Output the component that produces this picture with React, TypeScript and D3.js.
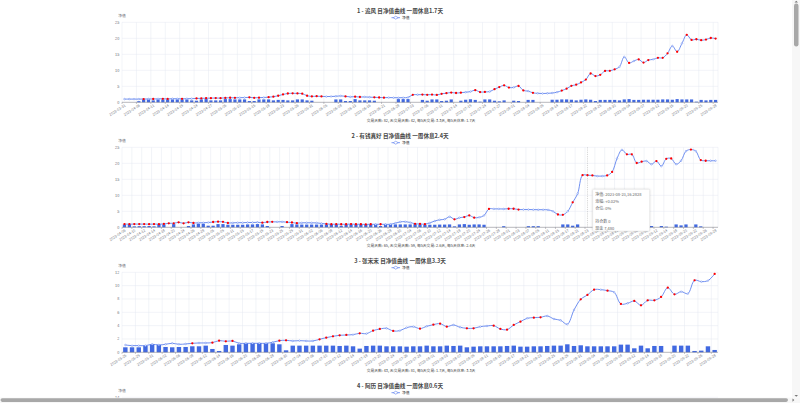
import React from "react";
import * as d3 from "d3";

const FONT = '"Noto Sans CJK SC", "Noto Sans", sans-serif';
const W = 800;
const H = 403;
const PLOT_LEFT = 122;
const PLOT_RIGHT = 718;
const PLOT_TOP_OFF = 22.3;
const PLOT_H = 80;
const VISIBLE_BOTTOM = 399;
const LINE_COLOR = "#5f82ee";
const BAR_COLOR = "#4169e1";
const AXIS_TEXT = "#6E7079";
const GRID = "#e4e8f0";

// 2023 trading days, 03-31 .. 09-28
const TRADING_DAYS = [
  "2023-03-31",
  "2023-04-03", "2023-04-04", "2023-04-06", "2023-04-07", "2023-04-10", "2023-04-11", "2023-04-12", "2023-04-13", "2023-04-14",
  "2023-04-17", "2023-04-18", "2023-04-19", "2023-04-20", "2023-04-21", "2023-04-24", "2023-04-25", "2023-04-26", "2023-04-27", "2023-04-28",
  "2023-05-04", "2023-05-05", "2023-05-08", "2023-05-09", "2023-05-10", "2023-05-11", "2023-05-12", "2023-05-15", "2023-05-16", "2023-05-17",
  "2023-05-18", "2023-05-19", "2023-05-22", "2023-05-23", "2023-05-24", "2023-05-25", "2023-05-26", "2023-05-29", "2023-05-30", "2023-05-31",
  "2023-06-01", "2023-06-02", "2023-06-05", "2023-06-06", "2023-06-07", "2023-06-08", "2023-06-09", "2023-06-12", "2023-06-13", "2023-06-14",
  "2023-06-15", "2023-06-16", "2023-06-19", "2023-06-20", "2023-06-21", "2023-06-26", "2023-06-27", "2023-06-28", "2023-06-29", "2023-06-30",
  "2023-07-03", "2023-07-04", "2023-07-05", "2023-07-06", "2023-07-07", "2023-07-10", "2023-07-11", "2023-07-12", "2023-07-13", "2023-07-14",
  "2023-07-17", "2023-07-18", "2023-07-19", "2023-07-20", "2023-07-21", "2023-07-24", "2023-07-25", "2023-07-26", "2023-07-27", "2023-07-28",
  "2023-07-31",
  "2023-08-01", "2023-08-02", "2023-08-03", "2023-08-04", "2023-08-07", "2023-08-08", "2023-08-09", "2023-08-10", "2023-08-11", "2023-08-14",
  "2023-08-15", "2023-08-16", "2023-08-17", "2023-08-18", "2023-08-21", "2023-08-22", "2023-08-23", "2023-08-24", "2023-08-25", "2023-08-28",
  "2023-08-29", "2023-08-30", "2023-08-31",
  "2023-09-01", "2023-09-04", "2023-09-05", "2023-09-06", "2023-09-07", "2023-09-08", "2023-09-11", "2023-09-12", "2023-09-13", "2023-09-14",
  "2023-09-15", "2023-09-18", "2023-09-19", "2023-09-20", "2023-09-21", "2023-09-22", "2023-09-25", "2023-09-26", "2023-09-27", "2023-09-28",
];

const DATES_1 = TRADING_DAYS;
const DATES_2 = TRADING_DAYS.slice(3);
const DATES_3 = TRADING_DAYS.slice(35);

const TITLES = [
  "1 - 追风 目净值曲线 一周休息1.7天",
  "2 - 有钱真好 目净值曲线 一周休息2.4天",
  "3 - 张宋宋 目净值曲线 一周休息3.3天",
  "4 - 阿历 目净值曲线 一周休息0.6天",
];
const FOOTERS = [
  "交易天数: 82, 无交易天数: 42, 每5天交易: 3.3天, 每5天休息: 1.7天",
  "交易天数: 65, 无交易天数: 59, 每5天交易: 2.6天, 每5天休息: 2.4天",
  "交易天数: 43, 无交易天数: 81, 每5天交易: 1.7天, 每5天休息: 3.3天",
];
const LEGEND_NAME = "净值";
const Y_NAME = "净值";

const Y_TICKS_1 = [0, 5, 10, 15, 20, 25];
const Y_TICKS_2 = [0, 5, 10, 15, 20, 25];
const Y_TICKS_3 = [0, 2, 4, 6, 8, 10, 12];
const Y_TICKS_4 = [0, 2, 4, 6, 8, 10, 12, 14];

// chart 1
const NAV_1 = [
  1.00, 1.00, 1.00, 1.00, 1.02, 1.04, 1.03, 1.08, 1.10, 1.06,
  1.12, 1.10, 1.08, 1.12, 1.15, 1.20, 1.24, 1.28, 1.30, 1.33,
  1.30, 1.38, 1.42, 1.40, 1.45, 1.48, 1.55, 1.40, 1.45, 1.50,
  1.60, 1.75, 2.05, 2.45, 2.75, 2.80, 2.78, 2.70, 2.05, 1.85,
  1.90, 1.85, 1.80, 1.82, 1.88, 2.00, 1.85, 1.70, 1.75, 1.65,
  1.68, 1.60, 1.55, 1.50, 1.45, 1.48, 1.45, 1.42, 1.45, 1.50,
  2.35, 2.38, 2.40, 2.35, 2.40, 2.30, 2.65, 2.85, 3.05, 2.90,
  3.00, 3.15, 3.35, 3.80, 3.20, 3.25, 3.35, 4.10, 4.75, 5.30,
  4.60, 4.65, 5.10, 3.70, 3.50, 2.95, 2.80, 2.75, 2.80, 2.90,
  3.15, 3.65, 4.25, 5.15, 5.50, 6.20, 7.10, 9.00, 8.20, 8.60,
  9.80, 9.85, 10.30, 11.10, 14.20, 12.30, 12.90, 13.40, 12.40, 13.20,
  13.40, 13.90, 13.90, 15.30, 17.60, 15.80, 18.40, 21.10, 19.50, 19.70,
  19.40, 19.60, 20.10, 19.90,
];
const POS_1 = [
  0, 0, 0, 0.35, 0.9, 0.9, 0.6, 0.9, 0.9, 0.9,
  0.9, 0.9, 0.9, 0.9, 0.6, 0.5, 0.9, 1.0, 0.6, 0.6,
  0.6, 1.0, 1.0, 0.9, 0.9, 0.9, 0.4, 0.4, 0.9, 0.9,
  0.9, 0.6, 0.75, 0.75, 0.6, 0.6, 0.9, 0.9, 0.6, 0.5,
  0, 0, 0, 0, 0.9, 0.9, 0.4, 0.4, 1.0, 0.6,
  0.6, 0.6, 0.5, 0, 0, 0, 0, 1.0, 1.0, 1.0,
  0, 0, 0.75, 0.5, 0.9, 0.9, 0.4, 0.5, 0.9, 0,
  0.5, 0.8, 0.95, 0.75, 0.2, 0.9, 0.9, 0.5, 0.3, 0.6,
  0, 0.5, 0.4, 0, 0.75, 0.75, 0, 0, 0, 0.8,
  0.8, 0.9, 0.9, 0.8, 0.6, 0.8, 0.9, 0.8, 0.4, 0.75,
  0.75, 0.75, 0.75, 0.6, 0.9, 1.0, 0.75, 0.75, 0.8, 0.8,
  0.8, 0.8, 0.9, 0.9, 0.8, 1.0, 0.9, 0.9, 0.9, 0.2,
  0.75, 0.6, 0.75, 0.75,
];
const TRADE_IDX_1 = [
  4, 6, 8, 9, 12, 15, 16, 17, 18, 19, 20, 21, 22, 23, 26, 27, 28,
  30, 31, 32, 33, 34, 35, 36, 37, 38, 39, 40, 41, 46, 48, 49, 52, 53, 54,
  60, 62, 63, 64, 65, 66, 67, 68, 69, 70, 73, 74, 75, 77, 78, 79, 80, 82, 83, 85,
  91, 92, 93, 94, 95, 96, 97, 98, 99, 100, 101, 102, 105, 107, 108, 109,
  111, 112, 113, 115, 117, 118, 119, 120, 121, 122, 123,
];

// chart 2
const NAV_2 = [
  1.00, 0.98, 1.00, 1.00, 1.00, 0.98, 1.00, 0.98, 1.05, 1.25,
  1.25, 1.55, 1.25, 1.55, 1.35, 1.40, 1.42, 1.50, 1.65, 1.75,
  1.70, 1.35, 1.40, 1.45, 1.45, 1.50, 1.50, 1.55, 1.45, 1.65,
  1.70, 1.70, 1.72, 1.60, 1.50, 1.30, 1.40, 1.42, 1.40, 1.38,
  1.20, 1.05, 0.95, 0.98, 0.95, 0.95, 1.00, 0.95, 0.95, 0.90,
  0.95, 0.92, 0.95, 0.92, 0.95, 1.30, 1.70, 1.75, 1.50, 1.10,
  1.05, 0.98, 1.40, 1.95, 2.35, 2.50, 3.30, 2.50, 3.00, 3.20,
  3.70, 3.00, 3.10, 3.70, 5.75, 5.75, 5.75, 5.72, 5.80, 5.80,
  5.55, 5.55, 5.55, 5.52, 5.50, 5.50, 5.45, 5.00, 4.00, 3.90,
  5.00, 7.80, 10.50, 16.28, 16.2828, 16.20, 16.00, 16.00, 16.20, 17.30,
  21.50, 24.20, 22.80, 22.80, 20.10, 20.50, 20.70, 19.70, 20.70, 19.10,
  21.40, 21.50, 19.70, 20.80, 23.80, 24.30, 23.80, 21.00, 20.80, 20.80,
  20.80,
];
const POS_2 = [
  0.9, 0.9, 0.3, 0.35, 0.35, 0.4, 0.3, 1.0, 0.9, 0,
  1.0, 0, 0, 0.4, 0.9, 1.1, 1.1, 0.5, 0.5, 1.0,
  1.0, 0.8, 0.8, 0.8, 0.8, 0.9, 0.9, 1.0, 0.9, 0.4,
  0, 0, 0.4, 0, 1.0, 0.9, 0.85, 0.85, 0.85, 0.85,
  0.85, 0.9, 1.0, 0.9, 0.5, 0.9, 0.9, 0.9, 0.9, 0.9,
  0.9, 0.9, 0.4, 0.9, 0.9, 0.9, 0.9, 0.9, 0.9, 1.0,
  0.9, 0.8, 0.8, 0.8, 0.85, 0.85, 0.9, 0.3, 0.9, 1.0,
  0.8, 0.9, 0.9, 0.8, 0, 0, 0, 0.35, 0, 0,
  0, 0, 0.35, 0.35, 0.35, 0, 0, 0, 0, 0.9,
  0.9, 0.5, 0.9, 0, 0, 0, 0, 0, 0, 0,
  0, 0, 0, 0, 0, 0, 0, 0.4, 0, 0.4,
  0.2, 0, 0.9, 0.6, 0.9, 0, 0.9, 0.3, 0, 0,
  0,
];
const TRADE_IDX_2 = [
  0, 1, 2, 3, 4, 5, 6, 7, 8, 9, 10, 11, 12, 13, 14, 18, 19, 20, 21,
  28, 29, 30, 33, 34, 35, 41, 42, 43, 44, 45, 46, 47, 48, 49, 50, 52,
  59, 60, 61, 67, 69, 70, 71, 74, 78, 79, 80, 88, 89, 91, 93, 94, 95,
  98, 99, 102, 103, 104, 105, 108, 110, 111, 115, 117, 118,
];

// chart 3
const NAV_3 = [
  1.10, 1.00, 1.00, 1.00, 1.20, 1.10, 1.20, 1.35, 1.20, 1.25,
  1.35, 1.40, 1.40, 1.45, 1.75, 1.65, 1.70, 1.35, 1.35, 1.35,
  1.35, 1.35, 1.50, 1.75, 1.80, 1.70, 1.75, 1.70, 1.70, 1.95,
  2.20, 2.40, 2.55, 2.60, 2.65, 2.85, 2.80, 3.25, 3.50, 3.60,
  3.20, 3.25, 3.70, 3.85, 3.55, 3.90, 4.15, 4.30, 3.85, 4.10,
  3.75, 3.60, 3.60, 3.85, 3.95, 4.00, 3.50, 3.40, 4.10, 4.60,
  5.10, 5.20, 5.25, 5.45, 5.00, 4.80, 4.20, 6.35, 7.95, 8.60,
  9.40, 9.40, 9.25, 9.00, 7.25, 7.35, 7.70, 7.05, 7.80, 7.80,
  8.30, 9.70, 8.70, 9.10, 8.80, 10.80, 10.60, 10.75, 11.75,
];
const POS_3 = [
  0.75, 0.75, 0.75, 1.00, 1.20, 1.10, 0.80, 0.75, 0.80, 0.80,
  0.90, 0.90, 1.00, 0.50, 0.20, 1.10, 1.00, 1.20, 1.35, 1.40,
  1.40, 1.35, 1.35, 1.20, 0.30, 1.00, 1.00, 1.00, 1.00, 1.00,
  1.00, 1.00, 0.95, 1.00, 0.90, 0.55, 0.95, 1.00, 1.00, 0.90,
  0.90, 0.90, 0.85, 0.90, 0.90, 1.00, 0.90, 0.90, 1.00, 0.95,
  1.00, 0.75, 0.85, 0.90, 0.90, 0.90, 0.90, 0.95, 1.00, 0.85,
  0.85, 0.90, 0.90, 0.95, 1.00, 1.00, 1.20, 0.95, 1.05, 0.90,
  0.90, 0.90, 0.90, 0.90, 1.15, 1.15, 0.60, 1.00, 0.60, 0.95,
  0.95, 0.00, 1.00, 1.00, 1.00, 0.20, 0.25, 0.90, 0.35,
];
const TRADE_IDX_3 = [
  10, 13, 14, 15, 16, 23, 24, 29, 30, 31, 32, 33, 35, 37, 38, 40, 44,
  46, 47, 48, 51, 52, 55, 56, 57, 58, 59, 61, 62, 68, 69, 70, 72, 74,
  76, 77, 78, 79, 80, 81, 82, 85, 88,
];

const TOOLTIP_2_INDEX = 94;
const TOOLTIP_2_LINES = [
  "净值: 2023-08-23,16.2828",
  "涨幅: +0.02%",
  "仓位:  0%",
  "",
  "持仓数 0",
  "现金 7,480",
];

type ChartProps = {
  top: number;
  title: string;
  footer?: string;
  dates: string[];
  nav: number[];
  pos: number[];
  trades: number[];
  yTicks: number[];
  labelEvery: number;
  tooltipIndex?: number;
  tooltipLines?: string[];
};

function Chart(p: ChartProps) {
  const t = p.top;
  const yTop = t + PLOT_TOP_OFF;
  const yBot = yTop + PLOT_H;
  const yMax = p.yTicks[p.yTicks.length - 1];
  const y = d3.scaleLinear().domain([0, yMax]).range([yBot, yTop]);
  const x = d3.scaleBand<string>().domain(p.dates).range([PLOT_LEFT, PLOT_RIGHT]);
  const bw = x.bandwidth();
  const cx = (i: number) => (x(p.dates[i]) ?? 0) + bw / 2;
  const n = Math.min(p.dates.length, p.nav.length);
  const pts: [number, number][] = p.nav.slice(0, n).map((v, i) => [cx(i), y(v)]);
  const lineGen = d3.line().curve(d3.curveCatmullRom.alpha(0.5));
  const tradeSet = new Set(p.trades);
  const labelIdx = p.dates.map((_, i) => i).filter((i) => i % p.labelEvery === 0);
  const barW = bw * 0.66;
  const visibleTicks = p.yTicks.filter((v) => y(v) < VISIBLE_BOTTOM);

  return (
    <g>
      <text x={400} y={t + 11} textAnchor="middle" dominantBaseline="central"
        fontSize={5.6} fontWeight="bold" fill="#464646" fontFamily={FONT}>{p.title}</text>
      {/* legend */}
      <line x1={391.5} x2={400} y1={t + 17.7} y2={t + 17.7} stroke={LINE_COLOR} strokeWidth={0.8} />
      <path d={`M${393.3},${t + 17.7} L${395.75},${t + 16.2} L${398.2},${t + 17.7} L${395.75},${t + 19.2} Z`}
        fill="#fff" stroke={LINE_COLOR} strokeWidth={0.6} />
      <text x={402} y={t + 17.8} dominantBaseline="central" fontSize={3.8} fill="#333" fontFamily={FONT}>{LEGEND_NAME}</text>
      {/* y axis name */}
      <text x={PLOT_LEFT} y={t + 15} textAnchor="middle" dominantBaseline="central"
        fontSize={3.8} fill={AXIS_TEXT} fontFamily={FONT}>{Y_NAME}</text>
      {/* horizontal grid + y labels */}
      {visibleTicks.map((v) => (
        <g key={"y" + v}>
          {v !== 0 && <line x1={PLOT_LEFT} x2={PLOT_RIGHT} y1={y(v)} y2={y(v)} stroke={GRID} strokeWidth={0.5} />}
          <text x={PLOT_LEFT - 2.7} y={y(v)} textAnchor="end" dominantBaseline="central"
            fontSize={3.8} fill={AXIS_TEXT} fontFamily={FONT}>{v}</text>
        </g>
      ))}
      {/* vertical grid */}
      {n > 0 && labelIdx.map((i) => (
        <line key={"vg" + i} x1={x(p.dates[i])} x2={x(p.dates[i])} y1={yTop} y2={yBot} stroke={GRID} strokeWidth={0.5} />
      ))}
      {n > 0 && <line x1={PLOT_RIGHT} x2={PLOT_RIGHT} y1={yTop} y2={yBot} stroke={GRID} strokeWidth={0.5} />}
      {/* bars */}
      {p.pos.slice(0, n).map((v, i) => v > 0 ? (
        <rect key={"b" + i} x={cx(i) - barW / 2} y={y(v)} width={barW} height={yBot - y(v)} fill={BAR_COLOR} />
      ) : null)}
      {/* x axis */}
      {n > 0 && <line x1={PLOT_LEFT} x2={PLOT_RIGHT} y1={yBot} y2={yBot} stroke={AXIS_TEXT} strokeWidth={0.5} />}
      {n > 0 && labelIdx.map((i) => (
        <g key={"xl" + i}>
          <line x1={x(p.dates[i])} x2={x(p.dates[i])} y1={yBot} y2={yBot + 1.7} stroke={AXIS_TEXT} strokeWidth={0.4} />
          <text transform={`translate(${cx(i) + 0.6},${yBot + 2.6}) rotate(-33)`} textAnchor="end" dominantBaseline="central"
            fontSize={3.6} fill={AXIS_TEXT} fontFamily={FONT}>{p.dates[i]}</text>
        </g>
      ))}
      {/* tooltip axis pointer */}
      {p.tooltipIndex !== undefined && (
        <line x1={cx(p.tooltipIndex)} x2={cx(p.tooltipIndex)} y1={yTop} y2={yBot}
          stroke="#9a9a9a" strokeWidth={0.4} strokeDasharray="1.2,1" />
      )}
      {/* line */}
      {n > 0 && <path d={lineGen(pts) ?? ""} fill="none" stroke={LINE_COLOR} strokeWidth={0.9} />}
      {pts.map(([px, py], i) => tradeSet.has(i) ? (
        <circle key={"p" + i} cx={px} cy={py} r={1.15} fill="#ff0000" />
      ) : (
        <circle key={"p" + i} cx={px} cy={py} r={0.8} fill="#fff" stroke={LINE_COLOR} strokeWidth={0.45} />
      ))}
      {/* footer */}
      {p.footer && (
        <text x={421} y={t + 120} textAnchor="middle" dominantBaseline="central"
          fontSize={3.8} fill="#444" fontFamily={FONT}>{p.footer}</text>
      )}
      {/* tooltip box */}
      {p.tooltipIndex !== undefined && p.tooltipLines && (
        <g>
          <rect x={592.7} y={189.3} width={57} height={41.7} rx={1} fill="#fff" stroke="#dcdcdc" strokeWidth={0.4}
            style={{ filter: "drop-shadow(0px 0.5px 1.2px rgba(0,0,0,0.18))" }} />
          {p.tooltipLines.map((s, k) => (
            <text key={"tt" + k} x={595.3} y={194.4 + k * 6.65} dominantBaseline="central"
              fontSize={4} fill="#666" fontFamily={FONT}>{s}</text>
          ))}
        </g>
      )}
    </g>
  );
}

export default function App() {
  return (
    <svg width={W} height={H} viewBox={`0 0 ${W} ${H}`}
      style={{ position: "fixed", left: 0, top: 0, background: "#fff" }}>
      <rect x={0} y={0} width={W} height={H} fill="#fff" />
      <Chart top={0} title={TITLES[0]} footer={FOOTERS[0]} dates={DATES_1} nav={NAV_1} pos={POS_1}
        trades={TRADE_IDX_1} yTicks={Y_TICKS_1} labelEvery={3} />
      <Chart top={125} title={TITLES[1]} footer={FOOTERS[1]} dates={DATES_2} nav={NAV_2} pos={POS_2}
        trades={TRADE_IDX_2} yTicks={Y_TICKS_2} labelEvery={2}
        tooltipIndex={TOOLTIP_2_INDEX} tooltipLines={TOOLTIP_2_LINES} />
      <Chart top={250} title={TITLES[2]} footer={FOOTERS[2]} dates={DATES_3} nav={NAV_3} pos={POS_3}
        trades={TRADE_IDX_3} yTicks={Y_TICKS_3} labelEvery={2} />
      <Chart top={375} title={TITLES[3]} dates={[]} nav={[]} pos={[]} trades={[]} yTicks={Y_TICKS_4} labelEvery={2} />
      {/* scrollbars */}
      <rect x={792} y={0} width={8} height={397.5} fill="#f7f7f7" />
      <rect x={794} y={3.5} width={4.5} height={43} rx={2.2} fill="#a8a8a8" />
      <path d="M794.5,2.6 L796.25,0.8 L798,2.6 Z" fill="#777" />
      <path d="M794.5,395 L796.25,396.8 L798,395 Z" fill="#777" />
      <rect x={0} y={397.6} width={W} height={5.4} fill="#f7f7f7" />
      <rect x={0.5} y={398.3} width={787.5} height={3.6} rx={1.8} fill="#a8a8a8" />
      <path d="M792.5,398.5 L794.3,400.1 L792.5,401.7 Z" fill="#777" />
    </svg>
  );
}
